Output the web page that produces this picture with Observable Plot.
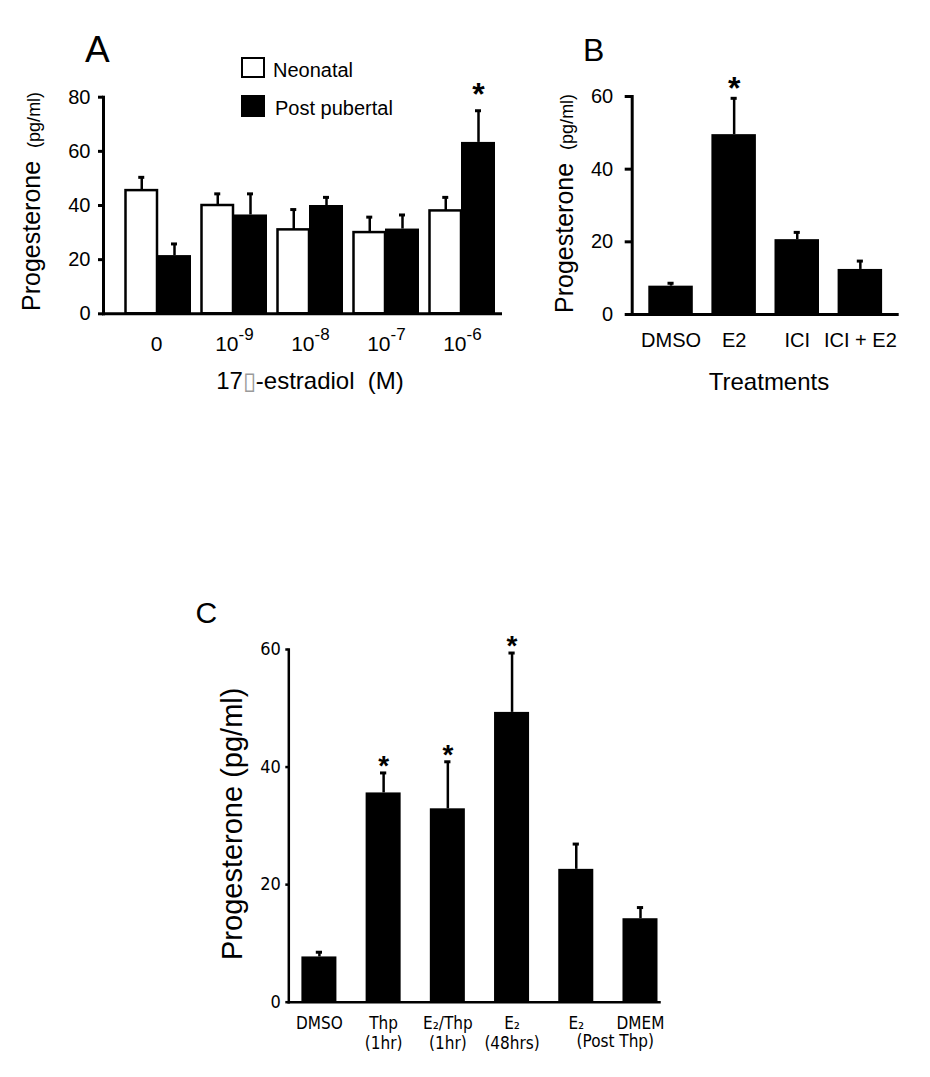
<!DOCTYPE html>
<html>
<head>
<meta charset="utf-8">
<script src="https://cdn.jsdelivr.net/npm/d3@7"></script>
<script src="https://cdn.jsdelivr.net/npm/@observablehq/plot@0.6"></script>
<style>
  html, body { margin: 0; padding: 0; background: #fff; }
  #root { position: relative; width: 930px; height: 1077px; overflow: hidden; background: #fff;
          font-family: Arial, "Liberation Sans", sans-serif; color: #000; }
  #root svg { position: absolute; }
</style>
</head>
<body>
<div id="root"></div>
<script>
// ---------------- Panel A data ----------------
const doses = ["0", "1e-9", "1e-8", "1e-7", "1e-6"];
const doseBase = ["0", "10", "10", "10", "10"];
const doseExp = ["", "-9", "-8", "-7", "-6"];
const neonatal = [45.5, 40, 31, 30, 38];
const neonatalErr = [4.9, 4.3, 7.5, 5.7, 5.0];
const postPubertal = [21.5, 36.5, 40, 31.3, 63.3];
const postPubertalErr = [4.3, 7.8, 3.0, 5.2, 11.7];
const postSig = ["", "", "", "", "*"];
const yTicksA = [0, 20, 40, 60, 80];
const legendA = ["Neonatal", "Post pubertal"];

// ---------------- Panel B data ----------------
const treatments = ["DMSO", "E2", "ICI", "ICI + E2"];
const treatValues = [7.8, 49.5, 20.6, 12.4];
const treatErr = [0.8, 10.0, 2.0, 2.3];
const treatSig = ["", "*", "", ""];
const yTicksB = [0, 20, 40, 60];

// ---------------- Panel C data ----------------
const cKeys = ["DMSO", "Thp 1hr", "E2/Thp 1hr", "E2 48hrs", "E2 post", "DMEM"];
const cLine1 = ["DMSO", "Thp", "E₂/Thp", "E₂", "E₂", "DMEM"];
const cLine2 = ["", "(1hr)", "(1hr)", "(48hrs)", "", ""];
const cSpanLabel = "(Post Thp)";
const cValues = [7.7, 35.6, 32.9, 49.3, 22.6, 14.2];
const cErr = [0.8, 3.4, 8.0, 10.1, 4.3, 1.9];
const cSig = ["", "*", "*", "*", "", ""];
const yTicksC = [0, 20, 40, 60];

// ---------------- helpers ----------------
const root = document.getElementById("root");
function place(el, left, top) {
  el.style.left = left + "px";
  el.style.top = top + "px";
  root.appendChild(el);
}
const FONT = 'Arial, "Liberation Sans", sans-serif';
const NARROW = '"Liberation Sans Narrow", "Arial Narrow", "DejaVu Sans Condensed", Arial, sans-serif';
const baseStyle = { fontFamily: FONT, fontSize: "20px", color: "black", background: "transparent", overflow: "visible" };

// ---------------- Panel A ----------------
const neoData = doses.map((d, i) => ({ dose: d, value: neonatal[i], top: neonatal[i] + neonatalErr[i] }));
const postData = doses.map((d, i) => ({ dose: d, value: postPubertal[i], top: postPubertal[i] + postPubertalErr[i], sig: postSig[i] }));
const tickA = doses.map((d, i) => ({ dose: d, base: doseBase[i], exp: doseExp[i] }));

const plotA = Plot.plot({
  width: 520, height: 400,
  marginLeft: 103, marginRight: 20, marginTop: 96.7, marginBottom: 86.7,
  style: baseStyle,
  x: { domain: doses, range: [119, 499], padding: 0, round: false, axis: null },
  y: { domain: [0, 80] },
  marks: [
    Plot.barY(neoData, { x: "dose", y: "value", fill: "white", stroke: "black", strokeWidth: 2.5, insetLeft: 6.5, insetRight: 38 }),
    Plot.barY(postData, { x: "dose", y: "value", fill: "black", insetLeft: 38, insetRight: 4 }),
    Plot.ruleX(neoData, { x: "dose", y1: "value", y2: "top", dx: -15.75, strokeWidth: 2.5 }),
    Plot.tickY(neoData, { x: "dose", y: "top", dx: -15.75, inset: 35, strokeWidth: 3 }),
    Plot.ruleX(postData, { x: "dose", y1: "value", y2: "top", dx: 17, strokeWidth: 2.5 }),
    Plot.tickY(postData, { x: "dose", y: "top", dx: 17, inset: 35, strokeWidth: 3 }),
    Plot.text(postData.filter(d => d.sig), { x: "dose", y: "top", text: "sig", dx: 17, dy: -16, fontSize: 32, fontWeight: "bold" }),
    Plot.axisY({ ticks: yTicksA, tickSize: 5, tickPadding: 8, strokeWidth: 3, fontSize: 20, label: null }),
    // x tick labels: base and superscript exponent
    Plot.text(tickA, { x: "dose", y: () => 0, text: "base", textAnchor: "end", lineAnchor: "top", dx: 5, dy: 22, fontSize: 21 }),
    Plot.text(tickA.filter(d => d.exp), { x: "dose", y: () => 0, text: "exp", textAnchor: "start", lineAnchor: "top", dx: 5, dy: 14, fontSize: 17 }),
    Plot.frame({ anchor: "left", strokeWidth: 3 }),
    Plot.frame({ anchor: "bottom", strokeWidth: 3 })
  ]
});
place(plotA, 0, 0);

// ---------------- Panel B ----------------
const dataB = treatments.map((t, i) => ({ t, value: treatValues[i], top: treatValues[i] + treatErr[i], sig: treatSig[i] }));
const plotB = Plot.plot({
  width: 410, height: 400,
  marginLeft: 111.7, marginRight: 33.3, marginTop: 96, marginBottom: 86,
  style: baseStyle,
  x: { domain: treatments, range: [119, 371.4], padding: 0, round: false },
  y: { domain: [0, 60] },
  marks: [
    Plot.barY(dataB, { x: "t", y: "value", fill: "black", insetLeft: 9.3, insetRight: 9.3 }),
    Plot.ruleX(dataB, { x: "t", y1: "value", y2: "top", strokeWidth: 2.5 }),
    Plot.tickY(dataB, { x: "t", y: "top", inset: 28.5, strokeWidth: 3 }),
    Plot.text(dataB.filter(d => d.sig), { x: "t", y: "top", text: "sig", dy: -10, fontSize: 32, fontWeight: "bold" }),
    Plot.axisY({ ticks: yTicksB, tickSize: 7, tickPadding: 12, strokeWidth: 3, fontSize: 20, label: null }),
    Plot.axisX({ tickSize: 0, tickPadding: 18, fontSize: 20, label: null }),
    Plot.frame({ anchor: "left", strokeWidth: 3 }),
    Plot.frame({ anchor: "bottom", strokeWidth: 3 })
  ]
});
place(plotB, 520, 0);

// ---------------- Panel C ----------------
const dataC = cKeys.map((k, i) => ({ k, value: cValues[i], top: cValues[i] + cErr[i], sig: cSig[i] }));
const plotC = Plot.plot({
  width: 930, height: 517,
  marginLeft: 288.3, marginRight: 271, marginTop: 89, marginBottom: 75.3,
  style: baseStyle,
  x: { domain: cKeys, range: [286.8, 672.1], padding: 0, round: false },
  y: { domain: [0, 60] },
  marks: [
    Plot.barY(dataC, { x: "k", y: "value", fill: "black", insetLeft: 14.6, insetRight: 14.6 }),
    Plot.ruleX(dataC, { x: "k", y1: "value", y2: "top", strokeWidth: 2.5 }),
    Plot.tickY(dataC, { x: "k", y: "top", inset: 29, strokeWidth: 3 }),
    Plot.text(dataC.filter(d => d.sig), { x: "k", y: "top", text: "sig", dy: -7, fontSize: 28, fontWeight: "bold" }),
    Plot.axisY({ ticks: yTicksC, tickSize: 3, tickPadding: 5, strokeWidth: 2.5, fontSize: 18, fontFamily: NARROW, label: null }),
    Plot.axisX({ tickSize: 0, tickPadding: 13, fontSize: 17, fontFamily: NARROW, lineHeight: 1.15, label: null,
      tickFormat: d => { const i = cKeys.indexOf(d); return cLine1[i] + (cLine2[i] ? "\n" + cLine2[i] : ""); } }),
    Plot.text([{ k: cKeys[4], label: cSpanLabel }], { x: "k", y: () => 0, text: "label", dx: 39, dy: 32.5, lineAnchor: "top", fontSize: 17, fontFamily: NARROW }),
    Plot.frame({ anchor: "left", strokeWidth: 2.5 }),
    Plot.frame({ anchor: "bottom", strokeWidth: 2.5 })
  ]
});
place(plotC, 0, 560);

// ---------------- Annotations: panel letters, legend, axis titles ----------------
const ov = d3.create("svg").attr("width", 930).attr("height", 1077)
  .style("left", "0px").style("top", "0px").style("pointer-events", "none")
  .attr("font-family", FONT).attr("fill", "black");

ov.append("text").attr("x", 85).attr("y", 61.7).attr("font-size", 37).text("A");
ov.append("text").attr("x", 583).attr("y", 60.7).attr("font-size", 32).text("B");
ov.append("text").attr("x", 195.5).attr("y", 623).attr("font-size", 30).text("C");

// legend (panel A)
ov.append("rect").attr("x", 242).attr("y", 58).attr("width", 22).attr("height", 19)
  .attr("fill", "white").attr("stroke", "black").attr("stroke-width", 2);
ov.append("rect").attr("x", 241).attr("y", 95).attr("width", 24).attr("height", 22).attr("fill", "black");
ov.append("text").attr("x", 273).attr("y", 76.7).attr("font-size", 20).text(legendA[0]);
ov.append("text").attr("x", 275).attr("y", 115).attr("font-size", 20).text(legendA[1]);

// y titles A & B (mixed sizes)
function yTitleMixed(x, y) {
  const t = ov.append("text").attr("transform", `translate(${x},${y}) rotate(-90)`).attr("text-anchor", "start");
  t.append("tspan").attr("font-size", 25).text("Progesterone");
  t.append("tspan").attr("font-size", 18).attr("dx", 13).text("(pg/ml)");
}
yTitleMixed(40, 311);
yTitleMixed(573, 313);

// y title C
ov.append("text").attr("transform", "translate(242,960) rotate(-90)").attr("text-anchor", "start")
  .attr("font-size", 29).text("Progesterone (pg/ml)");

// x titles
const xa = ov.append("text").attr("x", 310).attr("y", 389).attr("text-anchor", "middle").attr("font-size", 24)
  .attr("xml:space", "preserve").style("white-space", "pre");
xa.append("tspan").text("17");
xa.append("tspan").attr("fill", "#9a9a9a").text("▯");
xa.append("tspan").text("-estradiol  (M)");
ov.append("text").attr("x", 769).attr("y", 390).attr("text-anchor", "middle").attr("font-size", 24).text("Treatments");

root.appendChild(ov.node());
</script>
</body>
</html>
